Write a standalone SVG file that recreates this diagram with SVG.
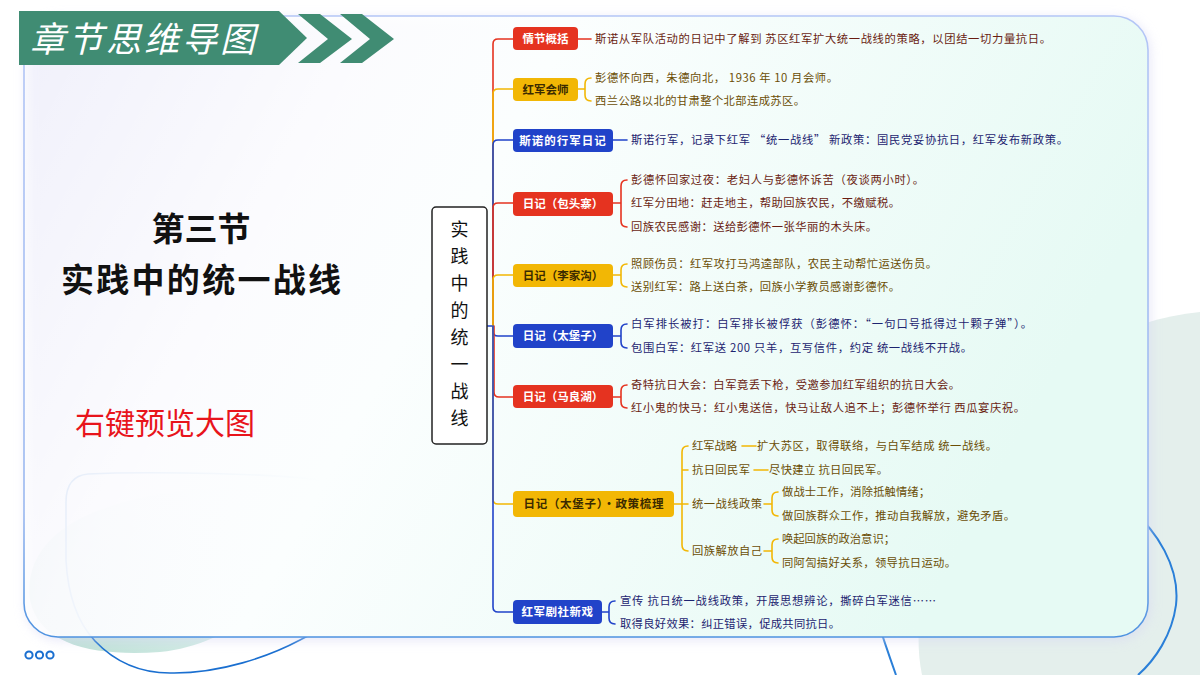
<svg xmlns="http://www.w3.org/2000/svg" width="1200" height="675" viewBox="0 0 1200 675">
<defs>
<style>
text{font-family:"Noto Sans CJK SC","Noto Sans",sans-serif}
.leaf{font-size:11.3px}
.tr{fill:#6a1d12}.ty{fill:#6b4e05}.tb{fill:#1d2470}
.nt{font-size:11.5px;font-weight:bold;text-anchor:middle}
.nw{fill:#ffffff}.nd{fill:#3a2a00}
.ln{fill:none;stroke-width:1.6;stroke-linecap:round;stroke-linejoin:round}
.lr{stroke:#e53320}.ly{stroke:#f2b705}.lb{stroke:#2143c9}
.br{fill:#e53320}.by{fill:#f2b705}.bb{fill:#2143c9}
</style>
<linearGradient id="cardFill" x1="0" y1="0" x2="1" y2="0.3">
<stop offset="0" stop-color="#ffffff" stop-opacity="0.4"/>
<stop offset="0.28" stop-color="#ffffff" stop-opacity="0.85"/>
<stop offset="0.45" stop-color="#fbfefe" stop-opacity="1"/>
<stop offset="1" stop-color="#e6faf4" stop-opacity="1"/>
</linearGradient>
<linearGradient id="cardStroke" x1="0" y1="0" x2="0" y2="1">
<stop offset="0" stop-color="#b4c6f6"/>
<stop offset="0.8" stop-color="#9ab8f0"/>
<stop offset="1" stop-color="#4e92e0"/>
</linearGradient>
<linearGradient id="blob" x1="0" y1="1" x2="1" y2="0">
<stop offset="0" stop-color="#b9ddd2"/>
<stop offset="0.55" stop-color="#e2f4f1"/>
<stop offset="1" stop-color="#ffffff" stop-opacity="0"/>
</linearGradient>
<filter id="shadow" x="-5%" y="-5%" width="110%" height="110%">
<feGaussianBlur stdDeviation="6"/>
</filter>
</defs>
<rect width="1200" height="675" fill="#ffffff"/>
<g id="decor-back">
<path d="M922 675 C898 560 1000 332 1200 312 L1200 675 Z" fill="#e4efec"/>
<path d="M30 600 C22 530 100 500 190 490 C240 485 300 486 330 492 L330 560 C270 600 230 645 160 652 C100 656 40 648 30 600 Z" fill="url(#blob)"/>
<path d="M320 480 C260 472 130 472 88 474 Q66 476 66 502 L66 560 C68 600 80 625 95 641 C115 662 140 673 170 673 C220 674 270 656 300 640 C330 624 360 610 385 600" fill="none" stroke="#1a6fd0" stroke-width="1.6"/>
<path d="M860 560 C870 600 880 630 896 675" fill="none" stroke="#2a7fd8" stroke-width="2"/>
<path d="M1120 500 C1160 530 1180 570 1176 605 C1172 635 1155 660 1138 675" fill="none" stroke="#2a7fd8" stroke-width="2"/>
</g>
<g id="card">
<rect x="26" y="18" width="1124" height="622" rx="34" fill="#d6d6f4" opacity="0.6" filter="url(#shadow)"/>
<rect x="24" y="16" width="1124" height="621" rx="34" fill="url(#cardFill)" stroke="url(#cardStroke)" stroke-width="1.6"/>
</g>
<g id="dots" fill="#ffffff" stroke="#1a6fd0" stroke-width="2">
<circle cx="29" cy="655" r="3.6"/>
<circle cx="39.5" cy="655" r="3.6"/>
<circle cx="50" cy="655" r="3.6"/>
</g>
<g id="header">
<polygon points="19,11 279,11 307,38 279,65 19,65" fill="#408c73"/>
<polygon points="298,14 320,14 352,39 320,63 298,63 328,39" fill="#408c73"/>
<polygon points="340,14 362,14 394,39 362,63 340,63 370,39" fill="#408c73"/>
<text x="30" y="52" font-size="35" font-style="italic" letter-spacing="3" fill="#ffffff">章节思维导图</text>
</g>
<g id="left-title">
<text x="201" y="241" font-size="33" font-weight="bold" text-anchor="middle" fill="#111111">第三节</text>
<text x="201" y="292" font-size="33" font-weight="bold" text-anchor="middle" fill="#111111" textLength="280" lengthAdjust="spacing">实践中的统一战线</text>
<text x="165" y="434" font-size="30" text-anchor="middle" fill="#e8141b">右键预览大图</text>
</g>
<g id="connectors">
<path class="ln lb" d="M487 326 H493"/>
<path class="ln lr" d="M493 326 V44 Q493 39 498 39 H513"/>
<path class="ln ly" d="M493 326 V94 Q493 89 498 89 H513"/>
<path class="ln lb" d="M493 326 V145 Q493 140 498 140 H513"/>
<path class="ln lr" d="M493 326 V208 Q493 203 498 203 H513"/>
<path class="ln ly" d="M493 326 V280 Q493 275 498 275 H513"/>
<path class="ln lb" d="M493 326 V331 Q493 336 498 336 H513"/>
<path class="ln lr" d="M494 326 V392 Q494 397 499 397 H513"/>
<path class="ln ly" d="M493 326 V499 Q493 504 498 504 H513"/>
<path class="ln lb" d="M493 326 V607 Q493 612 498 612 H513"/>
<path class="ln lr" d="M578 39 H591"/>
<path class="ln ly" d="M578 89 H585 M591 78 Q585 78 585 84 V95 Q585 101 591 101"/>
<path class="ln lb" d="M613 140 H627"/>
<path class="ln lr" d="M613 203 H621 M627 180 Q621 180 621 186 V221 Q621 227 627 227"/>
<path class="ln ly" d="M613 275 H621 M627 264 Q621 264 621 270 V281 Q621 287 627 287"/>
<path class="ln lb" d="M613 336 H621 M627 324 Q621 324 621 330 V342 Q621 348 627 348"/>
<path class="ln lr" d="M613 397 H621 M627 385 Q621 385 621 391 V402 Q621 408 627 408"/>
<path class="ln ly" d="M674 504 H688 M688 446 Q682 446 682 452 V545 Q682 551 688 551 M682 470 H688"/>
<path class="ln ly" d="M742 446 H756 M754 470 H768"/>
<path class="ln ly" d="M764 504 H772 M778 492 Q772 492 772 498 V510 Q772 516 778 516"/>
<path class="ln ly" d="M764 551 H772 M778 539 Q772 539 772 545 V557 Q772 563 778 563"/>
<path class="ln lb" d="M602 612 H609 M615 601 Q609 601 609 607 V618 Q609 624 615 624"/>
</g>
<g id="center">
<rect x="432" y="207" width="55" height="237" rx="4" fill="#ffffff" stroke="#222222" stroke-width="1.5"/>
<g font-size="18" text-anchor="middle" fill="#111111">
<text x="459.5" y="236">实</text>
<text x="459.5" y="263">践</text>
<text x="459.5" y="290">中</text>
<text x="459.5" y="317">的</text>
<text x="459.5" y="344">统</text>
<text x="459.5" y="371">一</text>
<text x="459.5" y="398">战</text>
<text x="459.5" y="425">线</text>
</g>
</g>
<g id="n1">
<rect class="br" x="513" y="27" width="65" height="23" rx="4"/>
<text class="nt nw" x="545.5" y="43">情节概括</text>
<text class="leaf tr" x="595" y="43" textLength="456" lengthAdjust="spacing">斯诺从军队活动的日记中了解到 苏区红军扩大统一战线的策略，以团结一切力量抗日。</text>
</g>
<g id="n2">
<rect class="by" x="513" y="78" width="65" height="23" rx="4"/>
<text class="nt nd" x="545.5" y="94">红军会师</text>
<text class="leaf ty" x="595" y="82" textLength="243" lengthAdjust="spacing">彭德怀向西，朱德向北， 1936 年 10 月会师。</text>
<text class="leaf ty" x="595" y="105" textLength="210" lengthAdjust="spacing">西兰公路以北的甘肃整个北部连成苏区。</text>
</g>
<g id="n3">
<rect class="bb" x="513" y="129" width="100" height="23" rx="4"/>
<text class="nt nw" x="563" y="145" letter-spacing="1">斯诺的行军日记</text>
<text class="leaf tb" x="631" y="144" textLength="437" lengthAdjust="spacing">斯诺行军，记录下红军 “统一战线” 新政策：国民党妥协抗日，红军发布新政策。</text>
</g>
<g id="n4">
<rect class="br" x="513" y="192" width="100" height="24" rx="4"/>
<text class="nt nw" x="563" y="208">日记（包头寨）</text>
<text class="leaf tr" x="631" y="184" textLength="293" lengthAdjust="spacing">彭德怀回家过夜：老妇人与彭德怀诉苦（夜谈两小时）。</text>
<text class="leaf tr" x="631" y="207" textLength="269" lengthAdjust="spacing">红军分田地：赶走地主，帮助回族农民，不缴赋税。</text>
<text class="leaf tr" x="631" y="231" textLength="246" lengthAdjust="spacing">回族农民感谢：送给彭德怀一张华丽的木头床。</text>
</g>
<g id="n5">
<rect class="by" x="513" y="264" width="100" height="23" rx="4"/>
<text class="nt nd" x="563" y="280">日记（李家沟）</text>
<text class="leaf ty" x="631" y="268" textLength="306" lengthAdjust="spacing">照顾伤员：红军攻打马鸿逵部队，农民主动帮忙运送伤员。</text>
<text class="leaf ty" x="631" y="291" textLength="269" lengthAdjust="spacing">送别红军：路上送白茶，回族小学教员感谢彭德怀。</text>
</g>
<g id="n6">
<rect class="bb" x="513" y="324" width="100" height="24" rx="4"/>
<text class="nt nw" x="563" y="340">日记（太堡子）</text>
<text class="leaf tb" x="631" y="328" textLength="401" lengthAdjust="spacing">白军排长被打：白军排长被俘获（彭德怀：“一句口号抵得过十颗子弹”）。</text>
<text class="leaf tb" x="631" y="352" textLength="341" lengthAdjust="spacing">包围白军：红军送 200 只羊，互写信件，约定 统一战线不开战。</text>
</g>
<g id="n7">
<rect class="br" x="513" y="385" width="100" height="23" rx="4"/>
<text class="nt nw" x="563" y="401">日记（马良湖）</text>
<text class="leaf tr" x="631" y="389" textLength="329" lengthAdjust="spacing">奇特抗日大会：白军竟丢下枪，受邀参加红军组织的抗日大会。</text>
<text class="leaf tr" x="631" y="412" textLength="394" lengthAdjust="spacing">红小鬼的快马：红小鬼送信，快马让敌人追不上；彭德怀举行 西瓜宴庆祝。</text>
</g>
<g id="n8">
<rect class="by" x="513" y="491" width="161" height="26" rx="4"/>
<text class="nt nd" x="593.5" y="508" textLength="140" lengthAdjust="spacing">日记（太堡子）·政策梳理</text>
<text class="leaf ty" x="692" y="450" textLength="45" lengthAdjust="spacing">红军战略</text>
<text class="leaf ty" x="757" y="450" textLength="240" lengthAdjust="spacing">扩大苏区，取得联络，与白军结成 统一战线。</text>
<text class="leaf ty" x="692" y="474" textLength="58" lengthAdjust="spacing">抗日回民军</text>
<text class="leaf ty" x="769" y="474" textLength="119" lengthAdjust="spacing">尽快建立 抗日回民军。</text>
<text class="leaf ty" x="692" y="508" textLength="70" lengthAdjust="spacing">统一战线政策</text>
<text class="leaf ty" x="782" y="496" textLength="148" lengthAdjust="spacing">做战士工作，消除抵触情绪；</text>
<text class="leaf ty" x="782" y="520" textLength="233" lengthAdjust="spacing">做回族群众工作，推动自我解放，避免矛盾。</text>
<text class="leaf ty" x="692" y="555" textLength="70" lengthAdjust="spacing">回族解放自己</text>
<text class="leaf ty" x="782" y="543" textLength="113" lengthAdjust="spacing">唤起回族的政治意识；</text>
<text class="leaf ty" x="782" y="567" textLength="174" lengthAdjust="spacing">同阿訇搞好关系，领导抗日运动。</text>
</g>
<g id="n9">
<rect class="bb" x="513" y="600" width="89" height="24" rx="4"/>
<text class="nt nw" x="557.5" y="616" letter-spacing="0.5">红军剧社新戏</text>
<text class="leaf tb" x="620" y="605" textLength="316" lengthAdjust="spacing">宣传 抗日统一战线政策，开展思想辨论，撕碎白军迷信……</text>
<text class="leaf tb" x="620" y="628" textLength="220" lengthAdjust="spacing">取得良好效果：纠正错误，促成共同抗日。</text>
</g>
</svg>
